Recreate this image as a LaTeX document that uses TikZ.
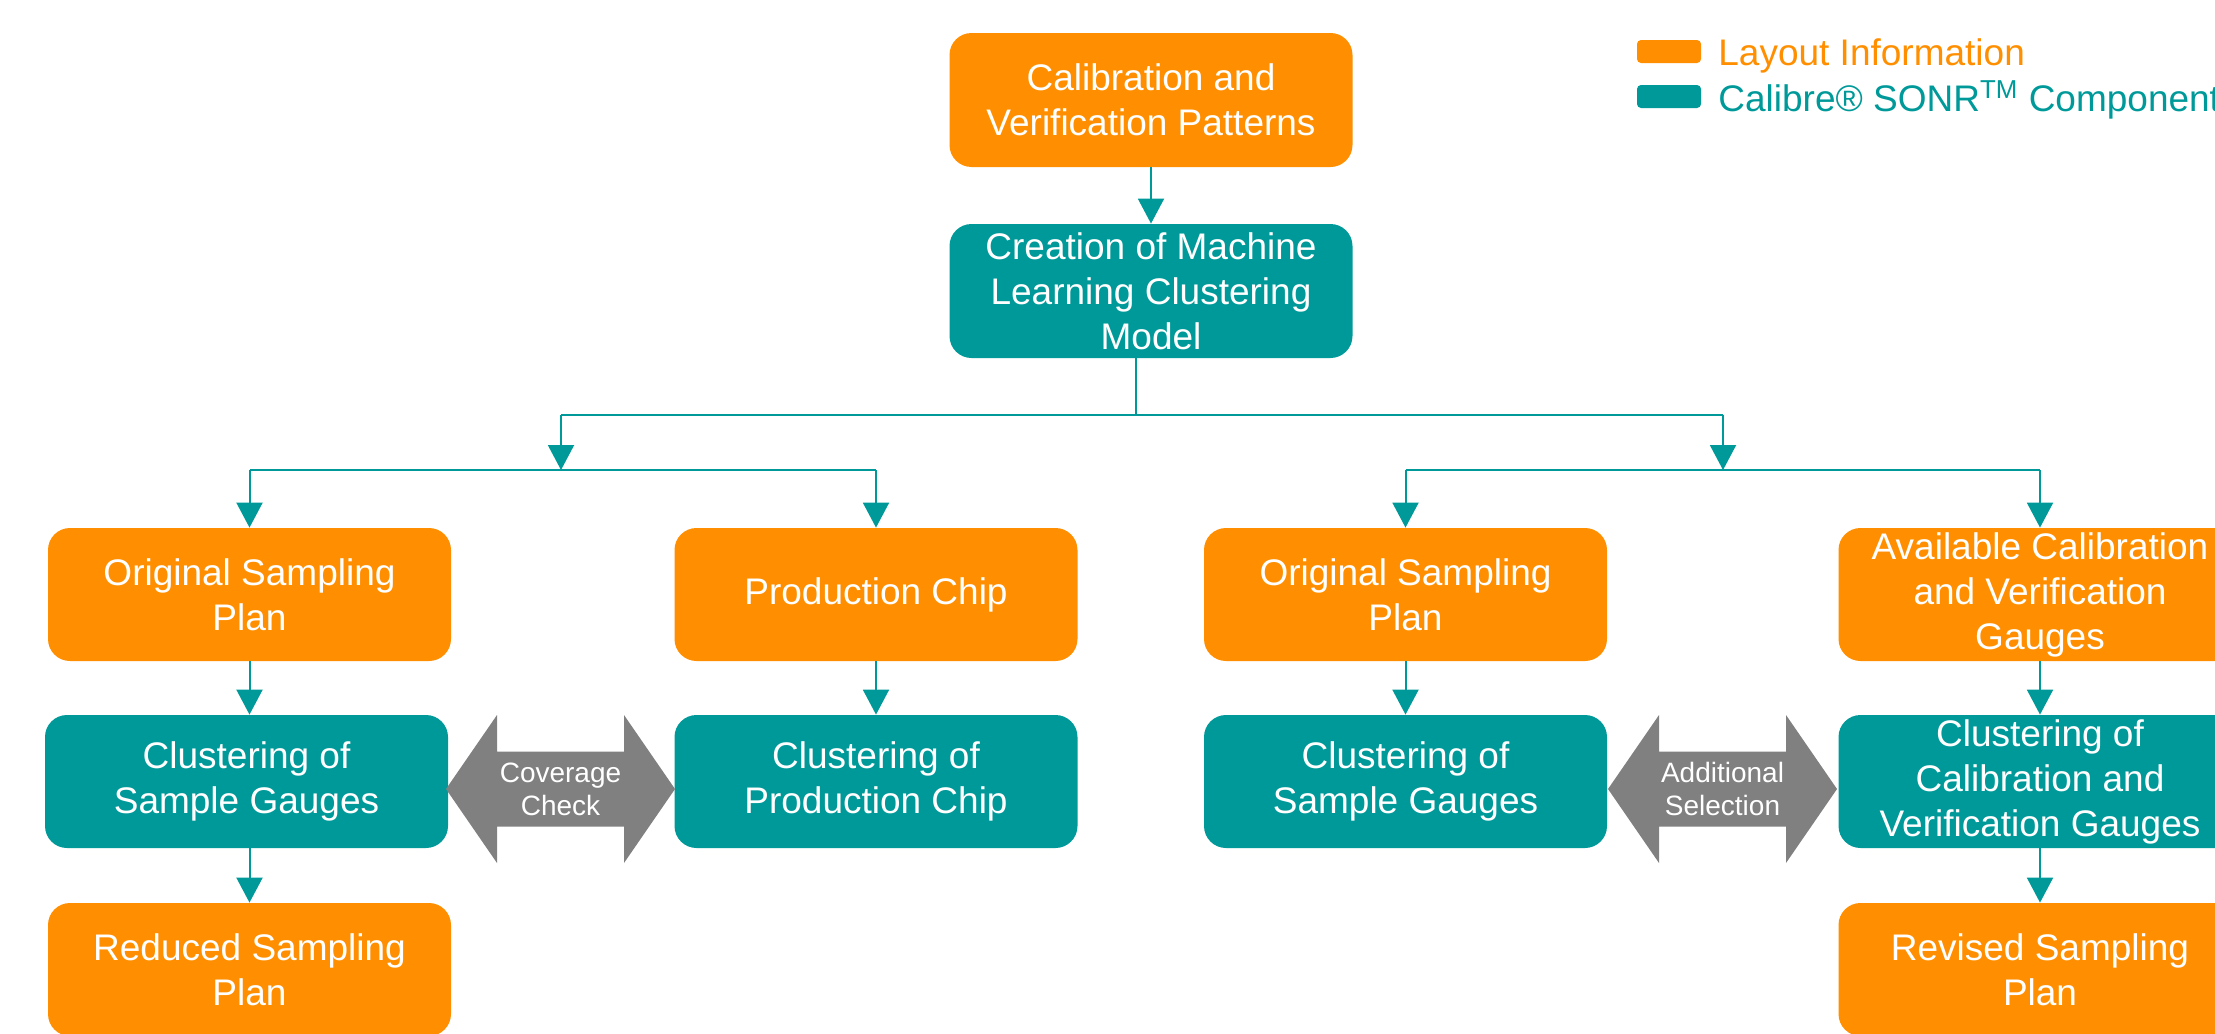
\documentclass[tikz,border=0pt]{standalone}
\usepackage{fontspec}
\setmainfont{Liberation Sans}
\usetikzlibrary{arrows.meta,calc}
\definecolor{layoutc}{RGB}{255,143,0}
\definecolor{sonrc}{RGB}{0,153,153}
\definecolor{dblc}{RGB}{128,128,128}

% two-headed block arrow centred on a point
\newcommand\twowayarrow[1]{%
  \fill[dblc,shift={(#1)}] (-114.5,0) -- (-63.5,-74) -- (-63.5,-37.5) -- (63.5,-37.5)
    -- (63.5,-74) -- (114.5,0) -- (63.5,74) -- (63.5,37.5) -- (-63.5,37.5)
    -- (-63.5,74) -- cycle;}

\begin{document}
\begin{tikzpicture}[x=0.5pt,y=-0.5pt,
  box/.style={rounded corners=11pt, minimum width=201.5pt, minimum height=66.5pt,
    text=white, align=center, font=\fontsize{18.5}{22.5}\selectfont, inner sep=0pt},
  layoutbox/.style={box, fill=layoutc},
  sonrbox/.style={box, fill=sonrc},
  flow/.style={draw=sonrc, line width=1pt, -{Triangle[length=12.5pt,width=13pt]}},
  link/.style={draw=sonrc, line width=1pt},
  dlabel/.style={text=white, align=center, font=\fontsize{14}{16.5}\selectfont, inner sep=0pt},
  keybox/.style={rounded corners=2pt, minimum width=32pt, minimum height=11.5pt, inner sep=0pt},
  keytext/.style={anchor=base west, font=\fontsize{18.5}{18.5}\selectfont, inner sep=0pt}
]
\useasboundingbox (0,0) rectangle (2215,1033);

% legend
\node[keybox, fill=layoutc] (keyL) at (1669,51.5) {};
\node[keybox, fill=sonrc] (keyS) at (1669,96.5) {};
\node[keytext, text=layoutc] (keyLt) at (1718,65) {Layout Information};
\node[keytext, text=sonrc] (keySt) at (1718,111) {Calibre® SONR\textsuperscript{TM} Component};

% top of the flow
\node[layoutbox, minimum height=67pt] (cal) at (1151,100) {Calibration and\\Verification Patterns};
\node[sonrbox, minimum height=67pt] (cre) at (1151,291) {Creation of Machine\\Learning Clustering\\Model};

% first row
\node[layoutbox] (osL) at (249.5,594.5) {Original Sampling\\Plan};
\node[layoutbox] (pc)  at (876,594.5) {Production Chip};
\node[layoutbox] (osR) at (1405.5,594.5) {Original Sampling\\Plan};
\node[layoutbox] (av)  at (2040,594.5) {Available Calibration\\and Verification\\Gauges};

% second row
\node[sonrbox] (csL) at (246.5,781.5) {Clustering of\\Sample Gauges};
\node[sonrbox] (cpc) at (876,781.5) {Clustering of\\Production Chip};
\node[sonrbox] (csR) at (1405.5,781.5) {Clustering of\\Sample Gauges};
\node[sonrbox] (ccv) at (2040,781.5) {Clustering of\\Calibration and\\Verification Gauges};

% third row
\node[layoutbox] (red) at (249.5,969.5) {Reduced Sampling\\Plan};
\node[layoutbox] (rev) at (2040,969.5) {Revised Sampling\\Plan};

% branching connectors
\coordinate (hub) at (1136,415);
\coordinate (splitL) at (561,415);
\coordinate (splitR) at (1723,415);
\coordinate (joinL) at (561,470);
\coordinate (joinR) at (1723,470);

\draw[flow] (cal) -- (cre);
\draw[link] (cre.south -| hub) -- (hub);
\draw[link] (splitL) -- (splitR);
\draw[flow] (splitL) -- (joinL);
\draw[flow] (splitR) -- (joinR);
\draw[link] (osL.north |- joinL) -- (pc.north |- joinL);
\draw[link] (osR.north |- joinR) -- (av.north |- joinR);
\draw[flow] (osL.north |- joinL) -- (osL.north);
\draw[flow] (pc.north |- joinL) -- (pc.north);
\draw[flow] (osR.north |- joinR) -- (osR.north);
\draw[flow] (av.north |- joinR) -- (av.north);

% vertical steps
\draw[flow] (osL) -- (osL |- csL.north);
\draw[flow] (csL.south -| red) -- (red);
\draw[flow] (pc) -- (cpc);
\draw[flow] (osR) -- (csR);
\draw[flow] (av) -- (ccv);
\draw[flow] (ccv) -- (rev);

% two-way block arrows
\twowayarrow{560.5,789}
\node[dlabel] (cov) at (560.5,789) {Coverage\\Check};
\twowayarrow{1722.5,789}
\node[dlabel] (add) at (1722.5,789) {Additional\\Selection};
\end{tikzpicture}
\end{document}
